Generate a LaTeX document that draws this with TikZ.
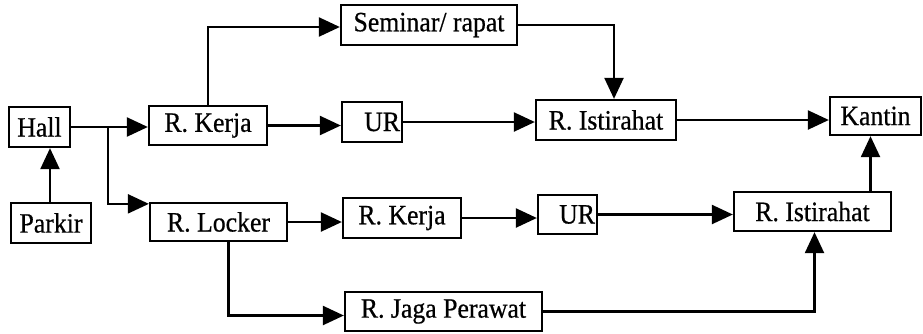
\documentclass[tikz,border=0pt]{standalone}
\usepackage{fontspec}
\setmainfont[FakeStretch=0.92,FakeBold=0.6]{Liberation Serif}
\usetikzlibrary{arrows.meta}
\begin{document}
\begin{tikzpicture}[x=1pt,y=-1pt,
  box/.style={draw, line width=2.3pt, inner sep=0pt, minimum height=40pt,
    font=\fontsize{28}{30}\selectfont},
  rbox/.style={box, align=right, inner xsep=2pt},
  arr/.style={line width=2.3pt, -{Triangle[length=21pt,width=19pt]}}]
\useasboundingbox (0,0) rectangle (923,333);
% upper row
\node[box, minimum width=61pt] (hall) at (39.5,127) {Hall};
\node[box, minimum width=80pt] (parkir) at (51,223) {Parkir};
\node[box, minimum width=118pt, minimum height=39pt] (kerja1) at (208,125.5) {R. Kerja};
\node[box, minimum width=176pt] (seminar) at (429,25) {Seminar/ rapat};
\node[rbox, text width=56pt] (ur1) at (372,122) {UR};
\node[box, minimum width=140pt] (ist1) at (606,120) {R. Istirahat};
\node[box, minimum width=91pt, minimum height=38pt] (kantin) at (875.5,116) {Kantin};
% lower row
\node[box, minimum width=137pt, minimum height=38pt] (locker) at (218.5,222) {R. Locker};
\node[box, minimum width=118pt] (kerja2) at (402,218) {R. Kerja};
\node[rbox, text width=55pt, minimum height=39pt] (ur2) at (567.5,214.5) {UR};
\node[box, minimum width=157pt, minimum height=39pt] (ist2) at (812.5,211.5) {R. Istirahat};
\node[box, minimum width=197pt, minimum height=39pt] (jaga) at (443.5,311.5) {R. Jaga Perawat};
% connectors
\draw[arr] (parkir.north -| 50,0) -- (hall.south -| 50,0);
\draw[arr] (hall.east) -- (hall.east -| kerja1.west);
\coordinate (j) at (108,127);
\draw[arr] (j) |- ([yshift=-2pt]locker.north west);
\draw[arr] (kerja1.north) |- ([yshift=-2pt]seminar.west);
\draw[arr] (seminar.east) -| ([xshift=8pt]ist1.north);
\draw[arr] (kerja1.east) -- (kerja1.east -| ur1.west);
\draw[arr] (ur1.east) -- (ur1.east -| ist1.west);
\draw[arr] (ist1.east) -- (ist1.east -| kantin.west);
\draw[arr] (locker.east) -- (locker.east -| kerja2.west);
\draw[arr] (kerja2.east) -- (kerja2.east -| ur2.west);
\draw[arr] (ur2.east) -- (ur2.east -| ist2.west);
\draw[arr] ([xshift=10pt]locker.south) |- ([yshift=-4pt]jaga.west);
\draw[arr] (jaga.east) -| ([xshift=2pt]ist2.south);
\draw[arr] ([xshift=58pt]ist2.north) -- ([xshift=58pt]ist2.north |- kantin.south);
\end{tikzpicture}
\end{document}
